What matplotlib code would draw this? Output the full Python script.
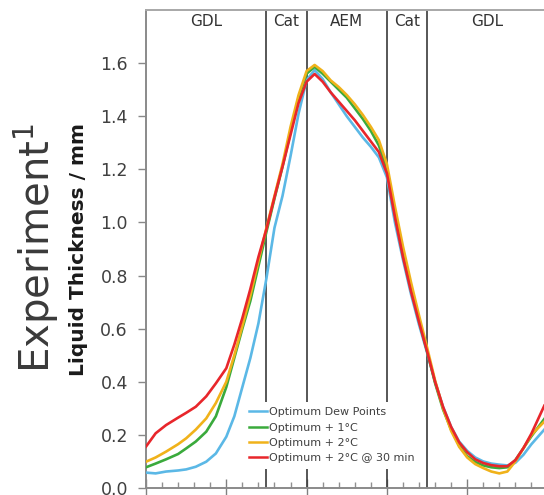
import matplotlib
matplotlib.use("Agg")
import matplotlib.pyplot as plt
from matplotlib.ticker import MultipleLocator

# ---------------- data ----------------
x_pos = [0, 0.12, 0.25, 0.4, 0.5, 0.62, 0.75, 0.87, 1.0, 1.1, 1.2, 1.3, 1.4, 1.5,
         1.6, 1.7, 1.8, 1.9, 2.0, 2.1, 2.2, 2.3, 2.4, 2.5, 2.6, 2.7, 2.8, 2.9, 3.0,
         3.1, 3.2, 3.3, 3.4, 3.5, 3.6, 3.7, 3.8, 3.9, 4.0, 4.1, 4.2, 4.3, 4.4, 4.5,
         4.6, 4.7, 4.8, 4.96]

optimum = [0.058, 0.055, 0.062, 0.066, 0.070, 0.080, 0.099, 0.13, 0.193, 0.27, 0.38, 0.49,
           0.62, 0.79, 0.98, 1.10, 1.25, 1.41, 1.536, 1.574, 1.54, 1.49, 1.445, 1.40, 1.36,
           1.32, 1.285, 1.245, 1.17, 1.00, 0.86, 0.73, 0.615, 0.51, 0.40, 0.305, 0.23, 0.175,
           0.14, 0.115, 0.10, 0.092, 0.088, 0.085, 0.095, 0.125, 0.165, 0.22]

plus1 = [0.078, 0.092, 0.108, 0.128, 0.149, 0.175, 0.212, 0.27, 0.38, 0.49, 0.60, 0.705,
         0.835, 0.965, 1.09, 1.21, 1.34, 1.47, 1.56, 1.586, 1.56, 1.53, 1.50, 1.47, 1.43,
         1.39, 1.345, 1.29, 1.20, 1.03, 0.88, 0.75, 0.63, 0.515, 0.395, 0.295, 0.22, 0.16,
         0.12, 0.098, 0.085, 0.078, 0.075, 0.078, 0.105, 0.15, 0.195, 0.26]

plus2 = [0.099, 0.115, 0.137, 0.165, 0.187, 0.22, 0.262, 0.32, 0.40, 0.50, 0.61, 0.725,
         0.855, 0.98, 1.10, 1.22, 1.36, 1.48, 1.57, 1.593, 1.57, 1.535, 1.51, 1.48, 1.445,
         1.405, 1.36, 1.31, 1.22, 1.06, 0.91, 0.775, 0.65, 0.53, 0.405, 0.30, 0.215, 0.155,
         0.115, 0.09, 0.075, 0.062, 0.055, 0.062, 0.10, 0.15, 0.20, 0.25]

plus2_30min = [0.156, 0.206, 0.237, 0.265, 0.283, 0.306, 0.345, 0.394, 0.451, 0.54, 0.64,
               0.75, 0.87, 0.975, 1.095, 1.21, 1.33, 1.45, 1.53, 1.559, 1.53, 1.49, 1.455,
               1.42, 1.385, 1.345, 1.305, 1.265, 1.185, 1.02, 0.87, 0.74, 0.625, 0.515, 0.40,
               0.305, 0.23, 0.172, 0.135, 0.108, 0.094, 0.086, 0.082, 0.082, 0.105, 0.15,
               0.205, 0.31]

series_labels = ["Optimum Dew Points", "Optimum + 1°C", "Optimum + 2°C",
                 "Optimum + 2°C @ 30 min"]
series_colors = ["#5bb8e6", "#3aaa3c", "#f0b21a", "#e8262b"]

region_bounds = [0, 1.5, 2.0, 3.0, 3.5, 5.0]
region_labels = ["GDL", "Cat", "AEM", "Cat", "GDL"]
y_ticks = [0.0, 0.2, 0.4, 0.6, 0.8, 1.0, 1.2, 1.4, 1.6]

# ---------------- figure ----------------
W, H = 544, 495
fig = plt.figure(figsize=(W / 100, H / 100), dpi=100)
left_px, right_px, top_px, bot_px = 146, 547.5, 10, 488
ax = fig.add_axes([left_px / W, 1 - bot_px / H, (right_px - left_px) / W,
                   (bot_px - top_px) / H])

# draw order: blue, yellow, green, red
order = [0, 2, 1, 3]
all_series = [optimum, plus1, plus2, plus2_30min]
handles = {}
for i in order:
    ln, = ax.plot(x_pos, all_series[i], color=series_colors[i], lw=1.9,
                  label=series_labels[i], solid_joinstyle="round", zorder=3 + i * 0.1)
    handles[i] = ln

for b in region_bounds[1:-1]:
    ax.axvline(b, color="#3a3a3a", lw=1.2, zorder=2)

ax.set_xlim(0, 5)
ax.set_ylim(0, 1.8)

for j, lab in enumerate(region_labels):
    xc = 0.5 * (region_bounds[j] + region_bounds[j + 1])
    ax.text(xc, 1.755, lab, ha="center", va="center", fontsize=11, color="#333333")

ax.set_yticks(y_ticks)
ax.set_yticklabels([f"{v:.1f}" for v in y_ticks])
ax.tick_params(axis="y", direction="out", length=5.5, width=1, color="#888888",
               labelsize=12.5, labelcolor="#404040", pad=7.5)
ax.xaxis.set_major_locator(MultipleLocator(1))
ax.xaxis.set_minor_locator(MultipleLocator(0.2))
ax.tick_params(axis="x", which="major", direction="inout", length=13, width=1,
               color="#808080", labelbottom=False)
ax.tick_params(axis="x", which="minor", direction="in", length=4.5, width=1,
               color="#909090")

for side in ["left", "bottom"]:
    ax.spines[side].set_color("#8a8a8a")
    ax.spines[side].set_linewidth(1.4)
ax.spines["top"].set_color("#a8a8a8")
ax.spines["top"].set_linewidth(1.4)
ax.spines["right"].set_visible(False)

leg = ax.legend([handles[i] for i in range(4)], series_labels, loc="lower left",
                bbox_to_anchor=(0.243, 0.04), fontsize=8, frameon=True,
                facecolor="white", edgecolor="none", framealpha=1, fancybox=False,
                handlelength=1.6, handletextpad=0.2, labelspacing=0.48, borderpad=0.5,
                borderaxespad=0)
for t in leg.get_texts():
    t.set_color("#404040")
for l in leg.get_lines():
    l.set_linewidth(1.8)
leg.set_zorder(5)

fig.text(79 / W, 1 - 249 / H, "Liquid Thickness / mm", rotation=90, ha="center",
         va="center", fontsize=14.5, fontweight="bold", color="#1a1a1a")
fig.text(36 / W, 1 - 248 / H, "Experiment$^1$", rotation=90, ha="center", va="center",
         fontsize=29, color="#3a3a3a")

fig.savefig("out.png", dpi=100)
